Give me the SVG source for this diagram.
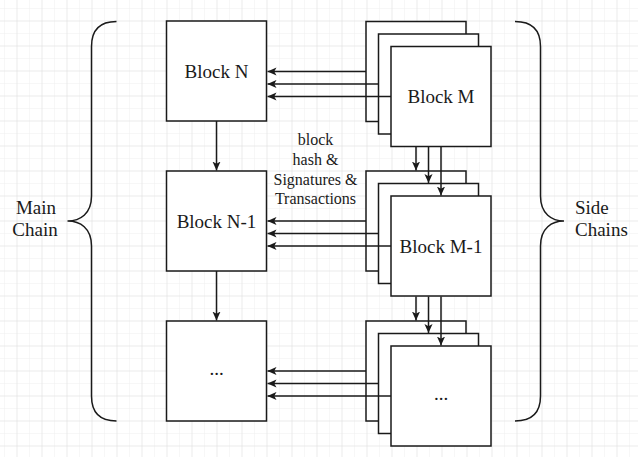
<svg xmlns="http://www.w3.org/2000/svg" width="638" height="457" viewBox="0 0 638 457">
<style>
.box{fill:#ffffff;stroke:#1a1a1a;stroke-width:1.5}
.lbl{font-family:"Liberation Serif","Times New Roman",serif;font-size:19px;fill:#1a1a1a;text-anchor:middle}
.start{text-anchor:start}
.small{font-family:"Liberation Serif","Times New Roman",serif;font-size:16px;fill:#1a1a1a;text-anchor:middle}
.edge{fill:none;stroke:#1a1a1a;stroke-width:1.5}
.brace{fill:none;stroke:#1a1a1a;stroke-width:1.5}
</style>
<defs>
<pattern id="minor" x="16.5" y="20.5" width="12.5" height="12.5" patternUnits="userSpaceOnUse">
<path d="M0,0 H12.5 M0,0 V12.5" fill="none" stroke="#efefef" stroke-width="1"/>
</pattern>
<pattern id="major" x="16.5" y="20.5" width="25" height="25" patternUnits="userSpaceOnUse">
<path d="M0,0 H25 M0,0 V25" fill="none" stroke="#e2e2e2" stroke-width="1"/>
</pattern>
<marker id="arr" viewBox="0 0 10 10" refX="10" refY="5" markerWidth="9" markerHeight="9" markerUnits="userSpaceOnUse" orient="auto">
<path d="M0,0.5 L10,5 L0,9.5 L2.5,5 Z" fill="#1a1a1a"/>
</marker>
</defs>
<rect width="638" height="457" fill="#ffffff"/>
<rect width="638" height="457" fill="url(#minor)"/>
<rect width="638" height="457" fill="url(#major)"/>

<g id="main-brace">
<path class="brace" d="M116.5,21.5 Q91.5,21.5 91.5,46.5 L91.5,196 C91.5,214 80,221 67.5,221 C80,221 91.5,228 91.5,246 L91.5,396 Q91.5,421 116.5,421"/>
<text class="lbl" x="36" y="214">Main</text>
<text class="lbl" x="35" y="236">Chain</text>
</g>
<g id="side-brace">
<path class="brace" d="M515,21.5 Q540.5,21.5 540.5,46.5 L540.5,196 C540.5,214 552,221 564,221 C552,221 540.5,228 540.5,246 L540.5,396 Q540.5,421 515,421"/>
<text class="lbl start" x="575" y="214">Side</text>
<text class="lbl start" x="575" y="236">Chains</text>
</g>

<g id="block-n">
<rect class="box" x="166.5" y="21" width="100" height="100"/>
<text class="lbl" x="216.5" y="77.5">Block N</text>
</g>
<g id="block-n1">
<rect class="box" x="166.5" y="171" width="100" height="100"/>
<text class="lbl" x="216.5" y="227.5">Block N-1</text>
</g>
<g id="block-dots">
<rect class="box" x="166.5" y="321" width="100" height="100"/>
<text class="lbl" x="216.5" y="375">...</text>
</g>

<g id="block-m-stack">
<rect class="box" x="366" y="21.5" width="100" height="100"/>
<rect class="box" x="378.5" y="34" width="100" height="100"/>
<rect class="box" x="391" y="46.5" width="100" height="100"/>
<text class="lbl" x="441" y="103">Block M</text>
</g>
<g id="block-m1-stack">
<rect class="box" x="366" y="171" width="100" height="100"/>
<rect class="box" x="378.5" y="183.5" width="100" height="100"/>
<rect class="box" x="391" y="196" width="100" height="100"/>
<text class="lbl" x="441" y="252.5">Block M-1</text>
</g>
<g id="block-dots-stack">
<rect class="box" x="366" y="321" width="100" height="100"/>
<rect class="box" x="378.5" y="333.5" width="100" height="100"/>
<rect class="box" x="391" y="346" width="100" height="100"/>
<text class="lbl" x="441" y="400">...</text>
</g>

<g id="connectors">
<line class="edge" x1="216.5" y1="121" x2="216.5" y2="170.5" marker-end="url(#arr)"/>
<line class="edge" x1="216.5" y1="271" x2="216.5" y2="320.5" marker-end="url(#arr)"/>
<line class="edge" x1="366" y1="71.5" x2="267.5" y2="71.5" marker-end="url(#arr)"/>
<line class="edge" x1="378.5" y1="84" x2="267.5" y2="84" marker-end="url(#arr)"/>
<line class="edge" x1="391" y1="96.5" x2="267.5" y2="96.5" marker-end="url(#arr)"/>
<line class="edge" x1="366" y1="221" x2="267.5" y2="221" marker-end="url(#arr)"/>
<line class="edge" x1="378.5" y1="233.5" x2="267.5" y2="233.5" marker-end="url(#arr)"/>
<line class="edge" x1="391" y1="246" x2="267.5" y2="246" marker-end="url(#arr)"/>
<line class="edge" x1="366" y1="371" x2="267.5" y2="371" marker-end="url(#arr)"/>
<line class="edge" x1="378.5" y1="383.5" x2="267.5" y2="383.5" marker-end="url(#arr)"/>
<line class="edge" x1="391" y1="396" x2="267.5" y2="396" marker-end="url(#arr)"/>
<line class="edge" x1="416" y1="147" x2="416" y2="170.5" marker-end="url(#arr)"/>
<line class="edge" x1="428.5" y1="147" x2="428.5" y2="183" marker-end="url(#arr)"/>
<line class="edge" x1="441" y1="147" x2="441" y2="195.5" marker-end="url(#arr)"/>
<line class="edge" x1="416" y1="296.5" x2="416" y2="320.5" marker-end="url(#arr)"/>
<line class="edge" x1="428.5" y1="296.5" x2="428.5" y2="333" marker-end="url(#arr)"/>
<line class="edge" x1="441" y1="296.5" x2="441" y2="345.5" marker-end="url(#arr)"/>
<text class="small" x="315.5" y="144.5">block</text>
<text class="small" x="315.5" y="164.5">hash &amp;</text>
<text class="small" x="315.5" y="184.5">Signatures &amp;</text>
<text class="small" x="315.5" y="204">Transactions</text>
</g>
</svg>
